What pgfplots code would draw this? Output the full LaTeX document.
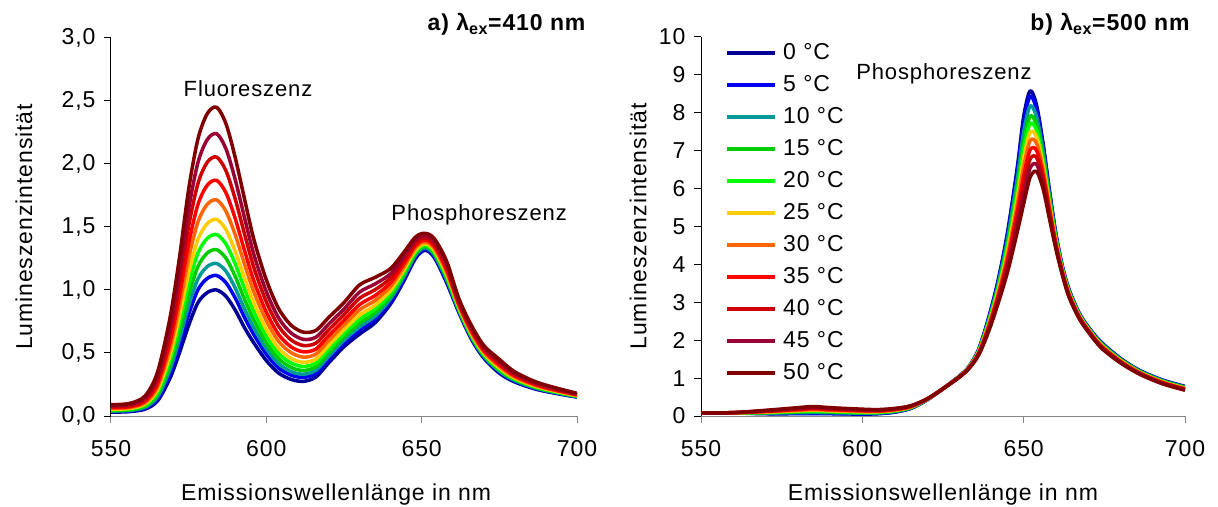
\documentclass[border=0pt]{standalone}
\usepackage{fontspec}
\setmainfont{Liberation Sans}[LetterSpace=4]
\usepackage{pgfplots}
\usepackage{pgfplotstable}
\pgfplotsset{compat=1.18}
\definecolor{c0}{RGB}{0,0,153}
\definecolor{c5}{RGB}{0,0,240}
\definecolor{c10}{RGB}{0,153,153}
\definecolor{c15}{RGB}{0,204,0}
\definecolor{c20}{RGB}{0,255,0}
\definecolor{c25}{RGB}{255,204,0}
\definecolor{c30}{RGB}{255,102,0}
\definecolor{c35}{RGB}{255,0,0}
\definecolor{c40}{RGB}{204,0,0}
\definecolor{c45}{RGB}{153,0,51}
\definecolor{c50}{RGB}{128,0,0}
\definecolor{axgray}{RGB}{134,134,134}
\newcommand{\fs}{\fontsize{23pt}{27pt}\selectfont}

\pgfplotstableread{
x t0 t5 t10 t15 t20 t25 t30 t35 t40 t45 t50
550 0.030 0.035 0.039 0.043 0.048 0.053 0.060 0.066 0.074 0.081 0.090
556 0.035 0.040 0.044 0.049 0.055 0.060 0.067 0.074 0.082 0.091 0.100
561 0.055 0.063 0.070 0.078 0.087 0.096 0.107 0.118 0.131 0.145 0.160
565 0.120 0.138 0.153 0.171 0.190 0.209 0.233 0.258 0.287 0.317 0.350
569 0.300 0.338 0.370 0.406 0.445 0.485 0.537 0.588 0.649 0.710 0.780
572 0.500 0.559 0.609 0.666 0.727 0.790 0.870 0.950 1.046 1.141 1.250
575 0.720 0.805 0.877 0.959 1.047 1.137 1.252 1.368 1.506 1.643 1.800
578 0.900 1.003 1.089 1.187 1.294 1.402 1.541 1.680 1.846 2.012 2.200
581 0.980 1.092 1.186 1.294 1.410 1.528 1.680 1.832 2.014 2.194 2.400
584 1.000 1.115 1.210 1.320 1.440 1.560 1.715 1.870 2.055 2.240 2.450
587 0.950 1.058 1.149 1.253 1.365 1.479 1.625 1.772 1.947 2.121 2.320
590 0.840 0.936 1.015 1.107 1.207 1.307 1.437 1.566 1.721 1.875 2.050
593 0.700 0.781 0.848 0.925 1.009 1.094 1.203 1.312 1.443 1.572 1.720
596 0.580 0.645 0.699 0.761 0.828 0.897 0.984 1.072 1.177 1.281 1.400
600 0.440 0.491 0.533 0.581 0.634 0.687 0.756 0.824 0.906 0.987 1.080
604 0.340 0.380 0.414 0.453 0.495 0.537 0.591 0.646 0.711 0.776 0.850
608 0.290 0.324 0.352 0.385 0.420 0.456 0.502 0.548 0.603 0.658 0.720
612 0.275 0.306 0.332 0.361 0.393 0.426 0.467 0.509 0.559 0.608 0.665
616 0.310 0.339 0.364 0.392 0.422 0.453 0.492 0.532 0.579 0.626 0.680
620 0.420 0.448 0.472 0.500 0.529 0.559 0.597 0.636 0.682 0.728 0.780
625 0.550 0.578 0.601 0.627 0.656 0.685 0.723 0.760 0.805 0.849 0.900
630 0.650 0.681 0.707 0.736 0.768 0.801 0.842 0.884 0.934 0.983 1.040
635 0.740 0.768 0.792 0.820 0.849 0.879 0.917 0.956 1.002 1.048 1.100
640 0.890 0.912 0.931 0.952 0.975 0.998 1.028 1.058 1.094 1.129 1.170
644 1.060 1.078 1.093 1.111 1.130 1.149 1.173 1.198 1.227 1.257 1.290
648 1.250 1.263 1.275 1.288 1.302 1.316 1.334 1.352 1.374 1.395 1.420
651 1.315 1.326 1.335 1.345 1.356 1.367 1.382 1.396 1.413 1.430 1.450
654 1.260 1.272 1.282 1.293 1.305 1.318 1.334 1.350 1.369 1.388 1.410
658 1.060 1.073 1.085 1.098 1.112 1.126 1.144 1.162 1.184 1.205 1.230
662 0.820 0.829 0.836 0.844 0.853 0.862 0.874 0.886 0.900 0.914 0.930
666 0.610 0.619 0.626 0.634 0.643 0.652 0.664 0.676 0.690 0.704 0.720
670 0.460 0.468 0.475 0.482 0.490 0.499 0.509 0.520 0.533 0.546 0.560
675 0.340 0.349 0.356 0.364 0.373 0.382 0.394 0.406 0.420 0.434 0.450
680 0.270 0.276 0.282 0.288 0.294 0.301 0.309 0.318 0.328 0.338 0.350
688 0.205 0.209 0.213 0.217 0.222 0.226 0.232 0.238 0.245 0.252 0.260
700 0.150 0.152 0.154 0.157 0.159 0.162 0.165 0.168 0.172 0.176 0.180
}\leftdata

\pgfplotstableread{
x t0 t5 t10 t15 t20 t25 t30 t35 t40 t45 t50
550 0.080 0.080 0.080 0.080 0.080 0.080 0.080 0.080 0.080 0.080 0.080
560 0.080 0.081 0.082 0.083 0.084 0.085 0.086 0.087 0.088 0.089 0.090
570 0.060 0.066 0.076 0.086 0.094 0.103 0.112 0.121 0.131 0.140 0.150
580 0.060 0.070 0.088 0.107 0.121 0.136 0.152 0.169 0.186 0.203 0.220
585 0.060 0.072 0.093 0.116 0.132 0.151 0.169 0.190 0.210 0.230 0.250
590 0.060 0.070 0.088 0.107 0.121 0.136 0.152 0.169 0.186 0.203 0.220
600 0.050 0.058 0.073 0.088 0.099 0.112 0.125 0.139 0.153 0.166 0.180
605 0.060 0.067 0.079 0.092 0.102 0.113 0.123 0.135 0.147 0.158 0.170
610 0.100 0.106 0.118 0.129 0.138 0.148 0.158 0.168 0.179 0.189 0.200
615 0.200 0.204 0.212 0.221 0.227 0.233 0.240 0.248 0.255 0.263 0.270
620 0.420 0.422 0.425 0.429 0.431 0.434 0.437 0.440 0.444 0.447 0.450
625 0.720 0.720 0.720 0.720 0.720 0.720 0.720 0.720 0.720 0.720 0.720
630 1.050 1.048 1.045 1.041 1.039 1.036 1.033 1.030 1.026 1.023 1.020
633 1.300 1.297 1.291 1.285 1.281 1.276 1.271 1.266 1.260 1.255 1.250
636 1.750 1.741 1.724 1.706 1.693 1.678 1.664 1.648 1.632 1.616 1.600
639 2.550 2.528 2.488 2.447 2.417 2.383 2.348 2.311 2.274 2.237 2.200
642 3.550 3.512 3.444 3.374 3.322 3.263 3.204 3.140 3.076 3.014 2.950
645 4.850 4.784 4.665 4.542 4.451 4.348 4.245 4.133 4.021 3.912 3.800
648 6.550 6.443 6.251 6.052 5.904 5.737 5.571 5.389 5.207 5.032 4.850
650 7.900 7.755 7.495 7.226 7.026 6.801 6.575 6.329 6.083 5.846 5.600
652 8.580 8.436 8.179 7.912 7.714 7.490 7.267 7.023 6.779 6.544 6.300
654 8.200 8.090 7.892 7.687 7.535 7.364 7.192 7.005 6.818 6.637 6.450
656 7.200 7.124 6.989 6.848 6.744 6.626 6.509 6.380 6.252 6.128 6.000
658 5.950 5.903 5.818 5.730 5.665 5.592 5.518 5.438 5.358 5.280 5.200
660 4.800 4.775 4.730 4.683 4.648 4.609 4.570 4.527 4.484 4.443 4.400
662 3.950 3.936 3.910 3.883 3.863 3.840 3.818 3.793 3.768 3.745 3.720
664 3.350 3.337 3.315 3.291 3.274 3.254 3.235 3.213 3.192 3.171 3.150
667 2.750 2.741 2.724 2.706 2.693 2.678 2.664 2.648 2.632 2.616 2.600
670 2.350 2.342 2.327 2.312 2.301 2.288 2.275 2.261 2.247 2.234 2.220
674 1.950 1.941 1.924 1.906 1.893 1.878 1.864 1.848 1.832 1.816 1.800
680 1.520 1.512 1.499 1.485 1.474 1.463 1.451 1.438 1.425 1.413 1.400
686 1.200 1.194 1.182 1.171 1.162 1.152 1.142 1.132 1.121 1.111 1.100
693 0.950 0.944 0.932 0.921 0.912 0.902 0.892 0.882 0.871 0.861 0.850
700 0.780 0.774 0.762 0.751 0.742 0.732 0.722 0.712 0.701 0.691 0.680
}\rightdata

\pgfplotsset{
  myaxis/.style={
    scale only axis,
    axis lines*=left,
    xmin=550, xmax=700,
    xtick={550,600,650,700},
    tick align=outside,
    major tick length=7pt,
    axis line style={line width=1pt},
    x axis line style={draw=axgray},
    y axis line style={draw=black},
    xtick style={draw=axgray, line width=1pt},
    ytick style={draw=black, line width=1pt},
    minor tick num=0,
    ticklabel style={font=\fs},
    /pgf/number format/assume math mode=true,
    xticklabel style={yshift=-14pt},
    yticklabel style={xshift=-5pt},
    label style={font=\fs},
    xlabel={Emissionswellenlänge in nm},
    ylabel={Lumineszenzintensität},
    clip mode=individual,
    every axis plot/.append style={line width=3.5pt, smooth, no markers, line join=round},
  }
}

\begin{document}
\begin{tikzpicture}
\useasboundingbox (0,0) rectangle (1218pt,506pt);
\begin{axis}[myaxis,
  at={(111pt,90pt)}, anchor=south west,
  width=466pt, height=378pt,
  ymin=0, ymax=3, ytick={0,0.5,...,3},
  yticklabel style={/pgf/number format/.cd, fixed, fixed zerofill, precision=1, use comma},
  xlabel style={at={(axis description cs:0.483,0)}, anchor=base, yshift=-84pt},
  ylabel style={at={(axis description cs:-0.1867,0.5)}, anchor=center},
]
\addplot[c0] table[x=x,y=t0] {\leftdata};
\addplot[c5] table[x=x,y=t5] {\leftdata};
\addplot[c10] table[x=x,y=t10] {\leftdata};
\addplot[c15] table[x=x,y=t15] {\leftdata};
\addplot[c20] table[x=x,y=t20] {\leftdata};
\addplot[c25] table[x=x,y=t25] {\leftdata};
\addplot[c30] table[x=x,y=t30] {\leftdata};
\addplot[c35] table[x=x,y=t35] {\leftdata};
\addplot[c40] table[x=x,y=t40] {\leftdata};
\addplot[c45] table[x=x,y=t45] {\leftdata};
\addplot[c50] table[x=x,y=t50] {\leftdata};
\node[font=\fontsize{22pt}{26pt}\selectfont] at (axis cs:594.1,2.60) {Fluoreszenz};
\node[font=\fontsize{22pt}{26pt}\selectfont] at (axis cs:668.5,1.595) {Phosphoreszenz};
\end{axis}

\begin{axis}[myaxis,
  at={(701pt,90pt)}, anchor=south west,
  width=484pt, height=379pt,
  ymin=0, ymax=10, ytick={0,1,...,10},
  xlabel style={at={(axis description cs:0.5,0)}, anchor=base, yshift=-84pt},
  ylabel style={at={(axis description cs:-0.130,0.5)}, anchor=center},
  legend image code/.code={\draw[#1, line width=4pt] (0pt,0pt) -- (48pt,0pt);},
  legend cell align=left,
  legend style={at={(axis description cs:0,1)}, anchor=north west,
    xshift=24pt, yshift=-5pt, draw=none, fill=none, font=\fs,
    inner sep=0pt, row sep=10pt, column sep=6pt,
    nodes={inner sep=0pt, text height=17pt, text depth=5pt}},
]
\addplot[c0] table[x=x,y=t0] {\rightdata};
\addlegendentry{0 °C}
\addplot[c5] table[x=x,y=t5] {\rightdata};
\addlegendentry{5 °C}
\addplot[c10] table[x=x,y=t10] {\rightdata};
\addlegendentry{10 °C}
\addplot[c15] table[x=x,y=t15] {\rightdata};
\addlegendentry{15 °C}
\addplot[c20] table[x=x,y=t20] {\rightdata};
\addlegendentry{20 °C}
\addplot[c25] table[x=x,y=t25] {\rightdata};
\addlegendentry{25 °C}
\addplot[c30] table[x=x,y=t30] {\rightdata};
\addlegendentry{30 °C}
\addplot[c35] table[x=x,y=t35] {\rightdata};
\addlegendentry{35 °C}
\addplot[c40] table[x=x,y=t40] {\rightdata};
\addlegendentry{40 °C}
\addplot[c45] table[x=x,y=t45] {\rightdata};
\addlegendentry{45 °C}
\addplot[c50] table[x=x,y=t50] {\rightdata};
\addlegendentry{50 °C}
\node[font=\fontsize{22pt}{26pt}\selectfont] at (axis cs:625.3,9.02) {Phosphoreszenz};
\end{axis}

\node[anchor=base east, font=\fontsize{23pt}{27pt}\selectfont\bfseries] at (589pt,475pt) {a) λ\textsubscript{ex}=410 nm};
\node[anchor=base east, font=\fontsize{23pt}{27pt}\selectfont\bfseries] at (1193pt,475pt) {b) λ\textsubscript{ex}=500 nm};
\end{tikzpicture}
\end{document}
